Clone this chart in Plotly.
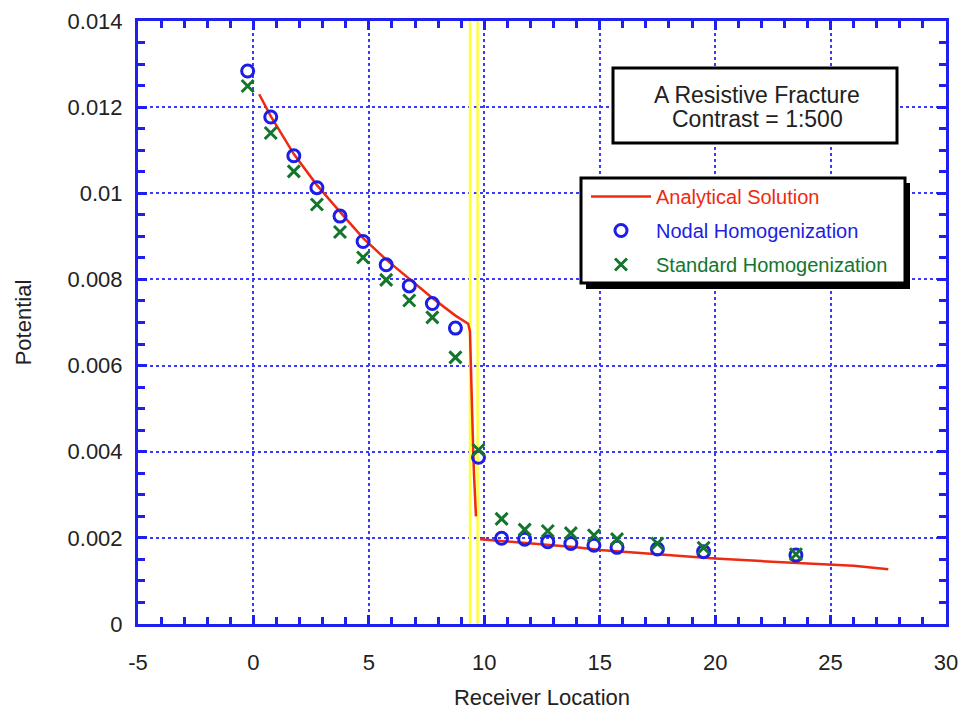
import plotly.graph_objects as go

# Receiver positions and computed potentials
nodal_x = [-0.25, 0.75, 1.75, 2.75, 3.75, 4.75, 5.75, 6.75, 7.75, 8.75, 9.75,
           10.75, 11.75, 12.75, 13.75, 14.75, 15.75, 17.5, 19.5, 23.5]
nodal_y = [0.01284, 0.01177, 0.01087, 0.01013, 0.00947, 0.00888, 0.00834, 0.00785,
           0.00744, 0.00687, 0.00387, 0.00199, 0.00197, 0.00191, 0.00187, 0.00183,
           0.00178, 0.00174, 0.00168, 0.00160]

standard_x = nodal_x
standard_y = [0.01249, 0.01140, 0.01051, 0.00974, 0.00910, 0.00851, 0.00799, 0.00751,
              0.00712, 0.00619, 0.00404, 0.00244, 0.00219, 0.00216, 0.00211, 0.00206,
              0.00197, 0.00187, 0.00177, 0.00162]

# Analytical curve (None splits the line at the fracture's far face)
analytic_x = [0.25, 0.75, 1.75, 2.75, 3.75, 4.75, 5.75, 6.75, 7.75, 8.75, 9.3,
              9.38, 9.42, 9.47, 9.52, 9.56, 9.6, 9.64, None,
              9.82, 11, 12, 13, 14, 15, 16, 18, 20, 22, 24, 26, 27.5]
analytic_y = [0.0123, 0.01179, 0.01091, 0.01019, 0.00957, 0.00896, 0.00846, 0.00802,
              0.00757, 0.00716, 0.00697,
              0.0068, 0.0058, 0.0049, 0.0040, 0.0034, 0.0029, 0.0025, None,
              0.00197, 0.00192, 0.00187, 0.00183, 0.00178, 0.00172, 0.00168,
              0.00160, 0.00152, 0.00146, 0.00141, 0.00135, 0.00127]

# Fracture faces
fracture_x = [9.38, 9.71]

x_ticks = [-5, 0, 5, 10, 15, 20, 25, 30]
y_ticks = [0, 0.002, 0.004, 0.006, 0.008, 0.01, 0.012, 0.014]
y_tick_text = ["0", "0.002", "0.004", "0.006", "0.008", "0.01", "0.012", "0.014"]

title_lines = ["A Resistive Fracture", "Contrast = 1:500"]

FONT = "Liberation Sans, Arial, sans-serif"
TEXT = "#222222"
BLUE_AXIS = "#1f1ff0"
GRID = "#3a3aff"
RED = "#ee2a12"
BLUE = "#1d1de6"
GREEN = "#13762c"
YELLOW = "#ffff3a"

W, H = 964, 714
ML, MR, MT, MB = 138, 18, 21, 90
PW, PH = W - ML - MR, H - MT - MB


def px(xp):
    return (xp - ML) / PW


def py(yp):
    return (H - MB - yp) / PH


fig = go.Figure()

for fx in fracture_x:
    fig.add_trace(go.Scatter(x=[fx, fx], y=[0, 0.014], mode="lines",
                             line=dict(color=YELLOW, width=2.5),
                             showlegend=False, hoverinfo="skip"))

fig.add_trace(go.Scatter(
    x=analytic_x, y=analytic_y, mode="lines", connectgaps=False,
    line=dict(color=RED, width=2.5),
    name=f"<span style='color:{RED}'>Analytical Solution</span>",
    legendgroup="a"))

fig.add_trace(go.Scatter(
    x=nodal_x, y=nodal_y, mode="markers",
    marker=dict(symbol="circle-open", size=12, color=BLUE, line=dict(width=3, color=BLUE)),
    name=f"<span style='color:{BLUE}'>Nodal Homogenization</span>",
    legendgroup="b"))

fig.add_trace(go.Scatter(
    x=standard_x, y=standard_y, mode="markers",
    marker=dict(symbol="x-thin-open", size=12, color=GREEN, line=dict(width=3, color=GREEN)),
    name=f"<span style='color:{GREEN}'>Standard Homogenization</span>",
    legendgroup="c"))

axis_common = dict(
    showline=True, linecolor=BLUE_AXIS, linewidth=3, mirror="allticks",
    ticks="inside", ticklen=9, tickwidth=3, tickcolor=BLUE_AXIS,
    showgrid=True, gridcolor=GRID, griddash="dot", gridwidth=1.5,
    zeroline=False, automargin=False,
    tickfont=dict(family=FONT, size=22, color=TEXT),
)

fig.update_xaxes(
    **axis_common,
    range=[-5, 30], tickvals=x_ticks, ticktext=[str(v) for v in x_ticks],
    ticklabelstandoff=17,
    minor=dict(dtick=1, ticks="inside", ticklen=7, tickwidth=2.5, tickcolor=BLUE_AXIS,
               showgrid=False),
    title=dict(text="Receiver Location", font=dict(family=FONT, size=22, color=TEXT),
               standoff=16),
)
fig.update_yaxes(
    **axis_common,
    range=[0, 0.014], tickvals=y_ticks, ticktext=y_tick_text,
    ticklabelstandoff=8,
    minor=dict(dtick=0.0005, ticks="inside", ticklen=7, tickwidth=2.5, tickcolor=BLUE_AXIS,
               showgrid=False),
    title=dict(text="Potential", font=dict(family=FONT, size=22, color=TEXT),
               standoff=30),
)

# Title box
fig.add_shape(type="rect", xref="paper", yref="paper", layer="above",
              x0=px(613), x1=px(897), y0=py(143), y1=py(68),
              line=dict(color="black", width=3), fillcolor="white")
for i, line_text in enumerate(title_lines):
    fig.add_annotation(xref="paper", yref="paper", x=px(757), y=py(95 + 24 * i),
                       text=line_text, showarrow=False,
                       font=dict(family=FONT, size=23, color=TEXT),
                       xanchor="center", yanchor="middle")

# Legend frame with drop shadow
fig.add_shape(type="rect", xref="paper", yref="paper", layer="above",
              x0=px(586), x1=px(910), y0=py(289), y1=py(183),
              line=dict(width=0), fillcolor="black")
fig.add_shape(type="rect", xref="paper", yref="paper", layer="above",
              x0=px(581), x1=px(905), y0=py(283), y1=py(178),
              line=dict(color="black", width=3), fillcolor="white")

fig.update_layout(
    width=W, height=H,
    margin=dict(l=ML, r=MR, t=MT, b=MB),
    paper_bgcolor="white", plot_bgcolor="white",
    font=dict(family=FONT),
    legend=dict(x=px(586), y=py(177), xanchor="left", yanchor="top",
                bgcolor="rgba(0,0,0,0)", borderwidth=0,
                font=dict(family=FONT, size=20),
                itemwidth=60, tracegroupgap=5, traceorder="grouped"),
)

fig.write_html("out.html")
